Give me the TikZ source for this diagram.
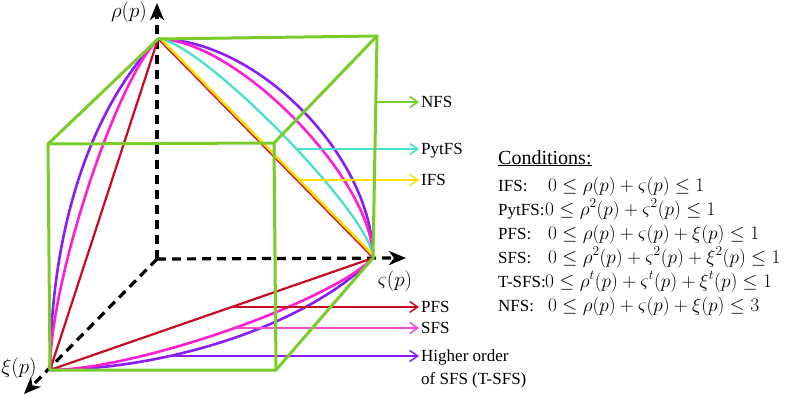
\documentclass[tikz,border=0pt]{standalone}
\usepackage{fix-cm}
\usepackage{fontspec}
\setmainfont{Liberation Serif}
\usetikzlibrary{arrows.meta}
\definecolor{cgreen}{RGB}{122,204,42}
\definecolor{cpurple}{RGB}{138,28,245}
\definecolor{cmagenta}{RGB}{255,30,210}
\definecolor{ccyan}{RGB}{72,224,200}
\definecolor{cyellow}{RGB}{255,222,0}
\definecolor{cred}{RGB}{200,10,35}
\definecolor{cpink}{RGB}{238,80,205}
\begin{document}
\begin{tikzpicture}[x=1pt,y=-1pt,
  cube/.style={cgreen,line width=3pt,line join=round,line cap=round},
  axis/.style={line width=3.2pt,dash pattern=on 9pt off 6pt,-{Stealth[length=17pt,width=14pt,inset=5pt]}},
  curve/.style={line width=2.6pt},
  lab/.style={font=\fontsize{17}{20}\selectfont,anchor=west,inner sep=2pt,text height=11pt,text depth=0pt},
  lab2/.style={font=\fontsize{17}{20}\selectfont,anchor=base west,inner sep=2pt},
  labarrow/.style={line width=1.5pt,-{Straight Barb[length=8pt,width=11pt,line width=1.5pt]}},
  cond/.style={font=\fontsize{17}{20}\selectfont,anchor=base west,inner sep=0pt},
  formula/.style={font=\fontsize{19.3}{22}\selectfont,anchor=base west,inner sep=0pt},
  axlab/.style={font=\fontsize{21}{24}\selectfont,inner sep=0pt},
]
\useasboundingbox (0,0) rectangle (786,396);
% corner points
\coordinate (O) at (157,259);
\coordinate (R) at (158,39);
\coordinate (S) at (373,258);
\coordinate (X) at (50,370);
\coordinate (F1) at (48,144);
\coordinate (F2) at (274,143);
\coordinate (F3) at (276,370);
\coordinate (B2) at (377,36);
\coordinate (Rtip) at (157,3);
\coordinate (Stip) at (406,258);
\coordinate (Xtip) at (24,394);

% axes
\draw[axis] (O) -- (Rtip);
\draw[axis] (O) -- (Stip);
\draw[axis] (O) -- (Xtip);
\node[axlab] (rl) at (129,12) {$\rho(p)$};
\node[axlab] (sl) at (395,281) {$\varsigma(p)$};
\node[axlab] (xl) at (19,368) {$\xi(p)$};

% curves: top face (R to S)
\draw[curve,cpurple] (R) .. controls (257,39) and (373,157) .. (S);
\draw[curve,cmagenta] (R) .. controls (236,39) and (373,179) .. (S);
\draw[curve,ccyan,line width=2.3pt] (R) .. controls (199,39) and (373,216) .. (S);
\draw[cyellow,line width=2.6pt] ([shift={(1.4,-1.4)}]R) -- ([shift={(1.4,-1.4)}]S);
\draw[cred,line width=1.2pt] (R) -- (S);
% left face (X to R)
\draw[curve,cpurple] (X) .. controls (51,229) and (90,110) .. (R);
\draw[curve,cmagenta] (X) .. controls (50,282) and (115,83) .. (R);
\draw[cred,line width=2.2pt] (X) -- (R);
% bottom face (X to S)
\draw[curve,cpurple] (X) .. controls (175,369) and (311,322) .. (S);
\draw[curve,cmagenta] (X) .. controls (136,370) and (330,302) .. (S);
\draw[cred,line width=2.2pt] (X) -- (S);

% label arrows
\coordinate (aN) at (377,102);
\coordinate (aPyt) at (297,149);
\coordinate (aI) at (300,180);
\coordinate (aP) at (233,307);
\coordinate (aS) at (236,328);
\coordinate (aT) at (170,356);
\node[lab] (lN) at (419,102) {NFS};
\node[lab] (lPyt) at (419,149) {PytFS};
\node[lab] (lI) at (419,180) {IFS};
\node[lab] (lP) at (419,307) {PFS};
\node[lab] (lS) at (419,328) {SFS};
\node[lab] (lT) at (419,356) {Higher order};
\node[lab2] (lT2) at (419,384) {of SFS (T-SFS)};
\draw[labarrow,cgreen] (aN) -- (lN.west);
\draw[labarrow,ccyan] (aPyt) -- (lPyt.west);
\draw[labarrow,cyellow] (aI) -- (lI.west);
\draw[labarrow,cred] (aP) -- (lP.west);
\draw[labarrow,cpink] (aS) -- (lS.west);
\draw[labarrow,cpurple] (aT) -- (lT.west);

% cube
\draw[cube] (F1) -- (F2) -- (F3) -- (X) -- cycle;
\draw[cube] (F1) -- (R) -- (B2) -- (S) -- (F3);
\draw[cube] (F2) -- (B2);

% conditions
\node[cond,font=\fontsize{20}{22}\selectfont] (ch) at (498,164) {\underline{Conditions:}};
\node[cond] (c1) at (498,191) {IFS:};
\node[cond] (c2) at (498,215) {PytFS:};
\node[cond] (c3) at (498,239) {PFS:};
\node[cond] (c4) at (498,263) {SFS:};
\node[cond] (c5) at (498,287) {T-SFS:};
\node[cond] (c6) at (498,311) {NFS:};
\node[formula] (f1) at (548,191) {$0 \le \rho(p) + \varsigma(p) \le 1$};
\node[formula] (f2) at (545,215) {$0 \le \rho^2(p) + \varsigma^2(p) \le 1$};
\node[formula] (f3) at (548,239) {$0 \le \rho(p) + \varsigma(p) + \xi(p) \le 1$};
\node[formula] (f4) at (548,263) {$0 \le \rho^2(p) + \varsigma^2(p) + \xi^2(p) \le 1$};
\node[formula] (f5) at (545,287) {$0 \le \rho^t(p) + \varsigma^t(p) + \xi^t(p) \le 1$};
\node[formula] (f6) at (548,311) {$0 \le \rho(p) + \varsigma(p) + \xi(p) \le 3$};
\end{tikzpicture}
\end{document}
